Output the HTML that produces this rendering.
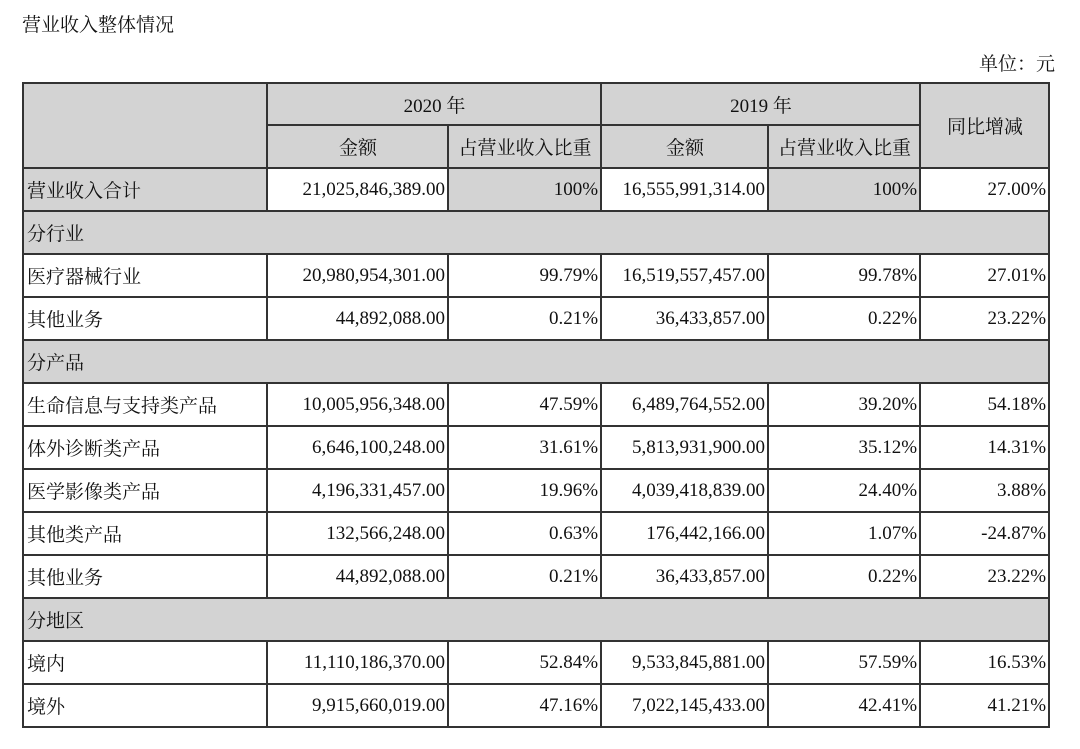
<!DOCTYPE html>
<html><head><meta charset="utf-8"><style>
body{margin:0;width:1080px;height:749px;background:#fff;font-family:"Liberation Serif","Noto Serif CJK SC",serif;color:#111;position:relative;overflow:hidden}
.t{position:absolute;font-size:19px}
table{position:absolute;left:22px;top:82px;border-collapse:collapse;table-layout:fixed;width:1026px;font-size:19px}
td{border:2px solid #333;padding:0 2px 0 3px;height:41px;white-space:nowrap;overflow:hidden}
.g{background:#d3d3d3}
.r{text-align:right}
.c{text-align:center}
</style></head><body>
<div class="t" style="left:22px;top:10px">营业收入整体情况</div>
<div class="t" style="right:25px;top:49px">单位：元</div>
<table>
<colgroup><col style="width:244px"><col style="width:181px"><col style="width:153px"><col style="width:167px"><col style="width:152px"><col style="width:129px"></colgroup>
<tr><td class="g" rowspan="2" style="height:40px"></td><td class="g c" colspan="2" style="height:40px">2020 年</td><td class="g c" colspan="2" style="height:40px">2019 年</td><td class="g c" rowspan="2">同比增减</td></tr>
<tr><td class="g c">金额</td><td class="g c">占营业收入比重</td><td class="g c">金额</td><td class="g c">占营业收入比重</td></tr>
<tr><td class="g">营业收入合计</td><td class="r">21,025,846,389.00</td><td class="g r">100%</td><td class="r">16,555,991,314.00</td><td class="g r">100%</td><td class="r">27.00%</td></tr>
<tr><td class="g" colspan="6">分行业</td></tr>
<tr><td>医疗器械行业</td><td class="r">20,980,954,301.00</td><td class="r">99.79%</td><td class="r">16,519,557,457.00</td><td class="r">99.78%</td><td class="r">27.01%</td></tr>
<tr><td>其他业务</td><td class="r">44,892,088.00</td><td class="r">0.21%</td><td class="r">36,433,857.00</td><td class="r">0.22%</td><td class="r">23.22%</td></tr>
<tr><td class="g" colspan="6">分产品</td></tr>
<tr><td>生命信息与支持类产品</td><td class="r">10,005,956,348.00</td><td class="r">47.59%</td><td class="r">6,489,764,552.00</td><td class="r">39.20%</td><td class="r">54.18%</td></tr>
<tr><td>体外诊断类产品</td><td class="r">6,646,100,248.00</td><td class="r">31.61%</td><td class="r">5,813,931,900.00</td><td class="r">35.12%</td><td class="r">14.31%</td></tr>
<tr><td>医学影像类产品</td><td class="r">4,196,331,457.00</td><td class="r">19.96%</td><td class="r">4,039,418,839.00</td><td class="r">24.40%</td><td class="r">3.88%</td></tr>
<tr><td>其他类产品</td><td class="r">132,566,248.00</td><td class="r">0.63%</td><td class="r">176,442,166.00</td><td class="r">1.07%</td><td class="r">-24.87%</td></tr>
<tr><td>其他业务</td><td class="r">44,892,088.00</td><td class="r">0.21%</td><td class="r">36,433,857.00</td><td class="r">0.22%</td><td class="r">23.22%</td></tr>
<tr><td class="g" colspan="6">分地区</td></tr>
<tr><td>境内</td><td class="r">11,110,186,370.00</td><td class="r">52.84%</td><td class="r">9,533,845,881.00</td><td class="r">57.59%</td><td class="r">16.53%</td></tr>
<tr><td>境外</td><td class="r">9,915,660,019.00</td><td class="r">47.16%</td><td class="r">7,022,145,433.00</td><td class="r">42.41%</td><td class="r">41.21%</td></tr>
</table>
</body></html>
